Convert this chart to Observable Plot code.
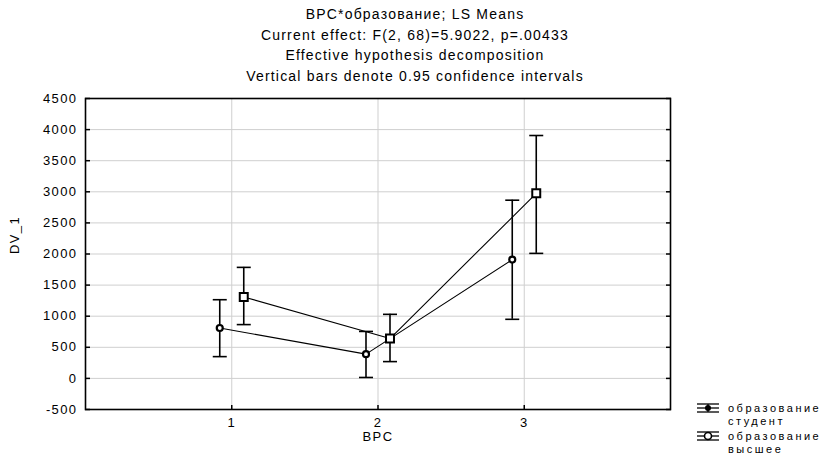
<!DOCTYPE html>
<html>
<head>
<meta charset="utf-8">
<script src="https://cdn.jsdelivr.net/npm/d3@7"></script>
<script src="https://cdn.jsdelivr.net/npm/@observablehq/plot@0.6"></script>
<style>
  html, body { margin: 0; padding: 0; background: white; }
  #wrap { position: relative; width: 830px; height: 455px; overflow: hidden; font-family: "Liberation Sans", Arial, sans-serif; color: black; }
  #chart { position: absolute; left: 0; top: 0; }
  #title { position: absolute; left: 0; top: 4px; width: 830px; text-align: center; font-size: 14px; line-height: 20.6px; letter-spacing: 1.2px; }
  #legend { position: absolute; left: 690px; top: 396px; }
</style>
</head>
<body>
<div id="wrap">
  <div id="chart"></div>
  <div id="title"></div>
  <div id="legend"></div>
</div>
<script>
// ---- data ----
const titleLines = [
  "BPC*образование; LS Means",
  "Current effect: F(2, 68)=5.9022, p=.00433",
  "Effective hypothesis decomposition",
  "Vertical bars denote 0.95 confidence intervals"
];
const xTitle = "BPC";
const yTitle = "DV_1";
const bpc = [1, 2, 3];
const yTicks = [-500, 0, 500, 1000, 1500, 2000, 2500, 3000, 3500, 4000, 4500];
const groupNames = ["образование\nстудент", "образование\nвысшее"];

const meanStudent = [810, 390, 1910];
const loStudent   = [350, 15, 950];
const hiStudent   = [1265, 755, 2865];

const meanHigher = [1310, 640, 2975];
const loHigher   = [865, 270, 2010];
const hiHigher   = [1785, 1030, 3905];

// ---- build tables ----
const stud = bpc.map((x, i) => ({x, mean: meanStudent[i], lo: loStudent[i], hi: hiStudent[i]}));
const high = bpc.map((x, i) => ({x, mean: meanHigher[i], lo: loHigher[i], hi: hiHigher[i]}));

const hline = {draw(ctx, size) { const r = Math.sqrt(size / Math.PI); ctx.moveTo(-r, 0); ctx.lineTo(r, 0); }};
const vline = {draw(ctx, size) { const r = Math.sqrt(size / Math.PI); ctx.moveTo(0, -r); ctx.lineTo(0, r); }};

function groupMarks(data, dx, markerOpts) {
  return [
    Plot.line(data, {x: "x", y: "mean", dx, stroke: "black", strokeWidth: 1.1}),
    Plot.ruleX(data, {x: "x", y1: "lo", y2: "hi", dx, stroke: "black", strokeWidth: 1.6}),
    Plot.dot(data, {x: "x", y: "lo", dx, symbol: hline, r: 7, stroke: "black", strokeWidth: 1.6}),
    Plot.dot(data, {x: "x", y: "hi", dx, symbol: hline, r: 7, stroke: "black", strokeWidth: 1.6}),
    Plot.dot(data, {x: "x", y: "mean", dx, ...markerOpts})
  ];
}

const chart = Plot.plot({
  width: 830,
  height: 455,
  marginTop: 98,
  marginLeft: 85,
  marginRight: 160,
  marginBottom: 46,
  x: {domain: [0, 4]},
  y: {domain: [-500, 4500]},
  style: {fontFamily: "'Liberation Sans', Arial, sans-serif", fontSize: "13px", color: "black", background: "white", letterSpacing: "1.4px"},
  marks: [
    Plot.gridY(yTicks, {stroke: "#cfcfcf", strokeOpacity: 1}),
    Plot.gridX(bpc, {stroke: "#cfcfcf", strokeOpacity: 1}),
    Plot.axisY(yTicks, {tickSize: 0, tickPadding: 8, label: null, fontSize: 13, tickFormat: d => String(d)}),
    Plot.axisX(bpc, {tickSize: 0, tickPadding: 8, label: null, fontSize: 13, tickFormat: d => String(d)}),
    Plot.dot(yTicks, {x: 0, y: d => d, symbol: hline, r: 2.5, dx: 2, stroke: "black", strokeWidth: 1.5}),
    Plot.dot(yTicks, {x: 4, y: d => d, symbol: hline, r: 2.5, dx: -2, stroke: "black", strokeWidth: 1.5}),
    Plot.dot(bpc, {x: d => d, y: -500, symbol: vline, r: 2.5, dy: -2, stroke: "black", strokeWidth: 1.5}),
    Plot.frame({stroke: "black", strokeWidth: 1.6}),
    Plot.text([xTitle], {frameAnchor: "bottom", dy: 31, text: d => d, fontSize: 13}),
    Plot.text([yTitle], {frameAnchor: "left", dx: -71, rotate: -90, text: d => d, fontSize: 13}),
    ...groupMarks(stud, -12, {r: 3, fill: "white", stroke: "black", strokeWidth: 2.2}),
    ...groupMarks(high, 12, {symbol: "square", r: 4.5, fill: "white", stroke: "black", strokeWidth: 2})
  ]
});
document.getElementById("chart").appendChild(chart);

// title
const t = document.getElementById("title");
titleLines.forEach(s => { const d = document.createElement("div"); d.textContent = s; t.appendChild(d); });

// legend
const lg = d3.select("#legend").append("svg").attr("width", 140).attr("height", 59)
  .style("font-family", "'Liberation Sans', Arial, sans-serif").style("font-size", "11px").style("letter-spacing", "2.5px");
groupNames.forEach((name, i) => {
  const cy = 12 + i * 28;
  const g = lg.append("g").attr("transform", `translate(18,${cy})`);
  [-4, 0, 4].forEach(yy => g.append("line").attr("x1", -11).attr("x2", 11).attr("y1", yy).attr("y2", yy).attr("stroke", "black").attr("stroke-width", 1.3));
  g.append("line").attr("x1", 0).attr("x2", 0).attr("y1", -4).attr("y2", 4).attr("stroke", "black").attr("stroke-width", 1.3);
  if (i === 0) g.append("circle").attr("r", 3).attr("fill", "black");
  else g.append("circle").attr("r", 3.5).attr("fill", "white").attr("stroke", "black").attr("stroke-width", 1.6);
  name.split("\n").forEach((line, j) => {
    lg.append("text").attr("x", 38).attr("y", cy + 4 + j * 13).text(line);
  });
});
</script>
</body>
</html>
